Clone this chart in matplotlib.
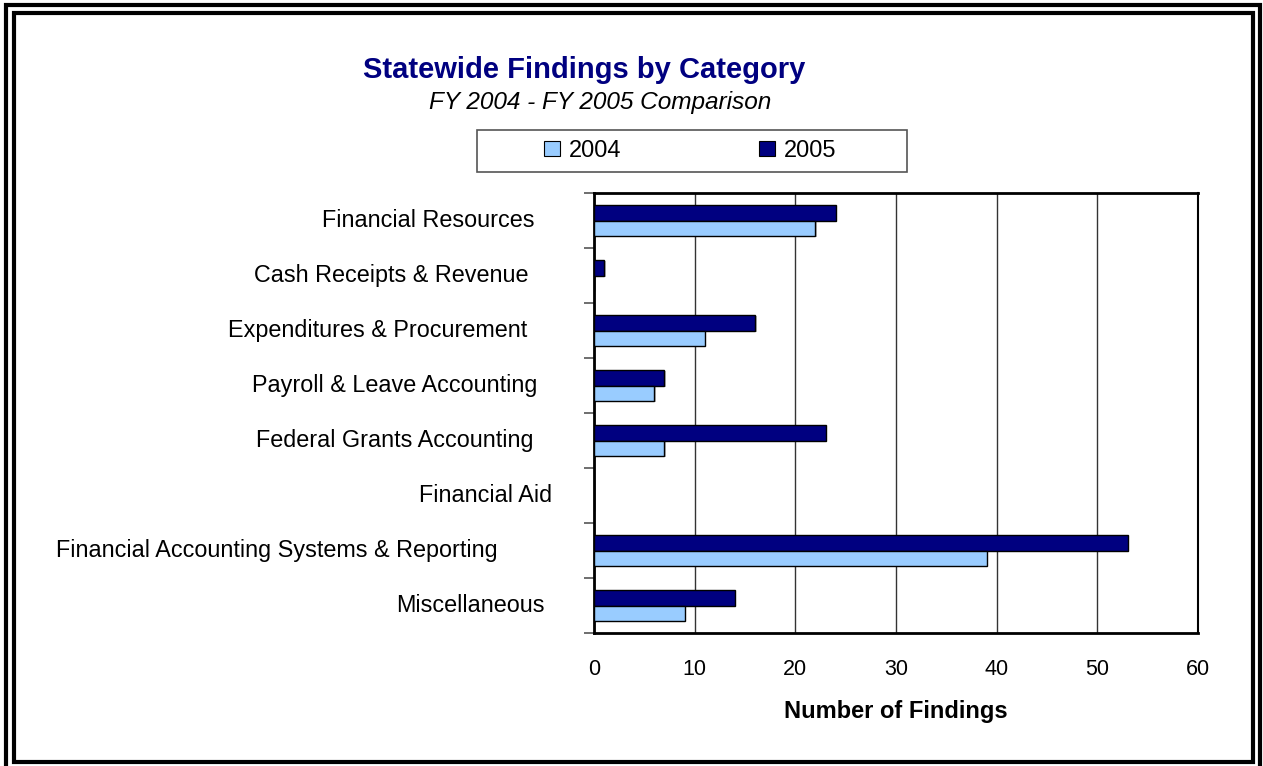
import matplotlib
matplotlib.use("Agg")
import matplotlib.pyplot as plt
from matplotlib.patches import Rectangle
import matplotlib.transforms as mtransforms
import numpy as np

plt.rcParams['font.family'] = ['Liberation Sans', 'DejaVu Sans']

categories = ["Financial Resources", "Cash Receipts & Revenue", "Expenditures & Procurement",
              "Payroll & Leave Accounting", "Federal Grants Accounting", "Financial Aid",
              "Financial Accounting Systems & Reporting", "Miscellaneous"]
values_2004 = [22, 0, 11, 6, 7, 0, 39, 9]
values_2005 = [24, 1, 16, 7, 23, 0, 53, 14]
series_labels = ["2004", "2005"]
x_ticks = [0, 10, 20, 30, 40, 50, 60]

# layout: right end (pixels) of each category label, as in the original
label_right_px = [534, 529, 527, 537, 533, 552, 498, 545]

c2004 = "#99CCFF"
c2005 = "#000080"
W, H = 1263, 766

fig = plt.figure(figsize=(W/100, H/100), dpi=100)
ax = fig.add_axes([594/W, 1-633/H, (1198-594)/W, (633-193)/H])

n = len(categories)
y = np.arange(n)
h = 0.285
# shadows
ax.barh(y - h/2 + 0.02, values_2005, height=h, left=0.15, color="#BBBBBB", linewidth=0, zorder=2)
ax.barh(y + h/2 + 0.02, values_2004, height=h, left=0.15, color="#BBBBBB", linewidth=0, zorder=2)
ax.barh(y - h/2, values_2005, height=h, color=c2005, edgecolor="black", linewidth=1, zorder=3)
ax.barh(y + h/2, values_2004, height=h, color=c2004, edgecolor="black", linewidth=1, zorder=3)

ax.set_ylim(n - 0.5, -0.5)
ax.set_xlim(0, 60)
ax.set_xticks(x_ticks)
ax.set_xticklabels([str(t) for t in x_ticks], fontsize=15.5)
ax.tick_params(axis='x', length=0, pad=19)
ax.set_yticks(np.arange(n + 1) - 0.5)
ax.set_yticklabels([])
ax.tick_params(axis='y', which='major', length=7, width=1.2, color="#555555")
ax.grid(axis='x', color="#333333", linewidth=1, zorder=0)
for s in ["top", "bottom", "left"]:
    ax.spines[s].set_linewidth(2)
    ax.spines[s].set_color("black")
ax.spines["right"].set_linewidth(1.5)
ax.set_xlabel("Number of Findings", fontsize=17, fontweight="bold", labelpad=14)

trans = mtransforms.blended_transform_factory(fig.transFigure, ax.transData)
for i, (cat, xr) in enumerate(zip(categories, label_right_px)):
    ax.text(xr/W, i, cat, transform=trans, ha="right", va="center", fontsize=16.8, clip_on=False)

fig.text(584/W, 1-70/H, "Statewide Findings by Category", ha="center", va="center",
         fontsize=21, fontweight="bold", color="#000080")
fig.text(600/W, 1-102/H, "FY 2004 - FY 2005 Comparison", ha="center", va="center",
         fontsize=17.6, style="italic")

# legend box
fig.patches.append(Rectangle((477/W, 1-172/H), (907-477)/W, 42/H, transform=fig.transFigure,
                             facecolor="white", edgecolor="#555555", linewidth=1.2))
for xs, col, lab in [(544, c2004, series_labels[0]), (759, c2005, series_labels[1])]:
    fig.patches.append(Rectangle((xs/W, 1-156/H), 16/W, 15/H, transform=fig.transFigure,
                                 facecolor=col, edgecolor="black", linewidth=0.8))
    fig.text((xs+25)/W, 1-151/H, lab, ha="left", va="center", fontsize=17)

# double border
fig.patches.append(Rectangle((6/W, -3/H), (1259.5-6)/W, (761+3)/H, transform=fig.transFigure,
                             facecolor="none", edgecolor="black", linewidth=3))
fig.patches.append(Rectangle((14/W, 4.5/H), (1253-14)/W, (753-4.5)/H, transform=fig.transFigure,
                             facecolor="none", edgecolor="black", linewidth=3))

fig.savefig("out.png", dpi=100)
